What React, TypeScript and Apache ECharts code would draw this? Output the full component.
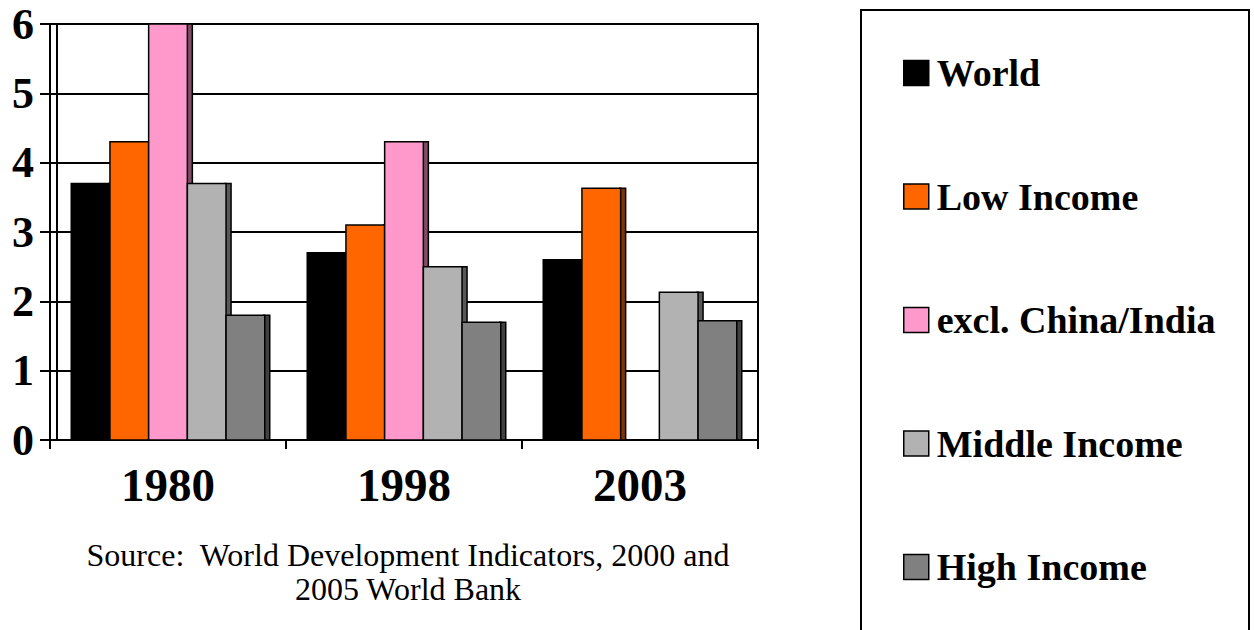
import React, { useEffect, useRef } from "react";
import * as echarts from "echarts";

const categories = ["1980", "1998", "2003"];
const seriesNames = ["World", "Low Income", "excl. China/India", "Middle Income", "High Income"];
const world = [3.7, 2.7, 2.6];
const lowIncome = [4.3, 3.1, 3.63];
const exclChinaIndia = [6.0, 4.3, null];
const middleIncome = [3.7, 2.5, 2.13];
const highIncome = [1.8, 1.7, 1.72];
const yTicks = [0, 1, 2, 3, 4, 5, 6];

const seriesValues = [world, lowIncome, exclChinaIndia, middleIncome, highIncome];
const faceColors = ["#000000", "#FF6600", "#FF99CC", "#B2B2B2", "#808080"];
const sideColors = ["#000000", "#803300", "#804C66", "#595959", "#404040"];

const FONT = "Liberation Serif";

export default function App() {
  const ref = useRef<HTMLDivElement>(null);
  useEffect(() => {
    if (!ref.current) return;
    const chart = echarts.init(ref.current, null, { renderer: "svg" });
    const nBars = seriesNames.length;
    const series = seriesValues.map((vals, si) => ({
      type: "custom",
      name: seriesNames[si],
      data: vals.map((v, ci) => [ci, v == null ? NaN : v]),
      encode: { x: 0, y: 1 },
      itemStyle: { color: faceColors[si], borderColor: "#000", borderWidth: 1.5 },
      renderItem: (params: any, api: any) => {
        const ci = api.value(0);
        const v = api.value(1);
        if (v == null || isNaN(v)) return null;
        const base = api.coord([ci, 0]);
        const top = api.coord([ci, v]);
        const catW = api.size([1, 0])[0];
        const slot = catW * 0.164;
        const start = base[0] - (nBars / 2) * slot;
        const x = start + si * slot;
        const h = base[1] - top[1];
        return {
          type: "group",
          children: [
            {
              type: "rect",
              shape: { x: x + slot - 1, y: top[1], width: 6, height: h },
              style: { fill: sideColors[si], stroke: "#000", lineWidth: 1.5 },
            },
            {
              type: "rect",
              shape: { x: x, y: top[1], width: slot, height: h },
              style: { fill: faceColors[si], stroke: "#000", lineWidth: 1.5 },
            },
          ],
        };
      },
    }));

    chart.setOption({
      animation: false,
      backgroundColor: "#fff",
      textStyle: { fontFamily: FONT },
      grid: {
        left: 50,
        top: 24,
        width: 708,
        height: 416,
        show: true,
        borderColor: "#000",
        borderWidth: 2,
        backgroundColor: "transparent",
        outerBoundsMode: "none",
      },
      xAxis: {
        type: "category",
        data: categories,
        axisLine: { show: true, lineStyle: { color: "#000", width: 2 } },
        axisTick: { show: true, length: 9, lineStyle: { color: "#000", width: 2 } },
        axisLabel: {
          fontFamily: FONT,
          fontSize: 47,
          fontWeight: "bold",
          color: "#000",
          margin: 21,
        },
      },
      yAxis: {
        type: "value",
        min: yTicks[0],
        max: yTicks[yTicks.length - 1],
        interval: 1,
        axisLine: { show: true, lineStyle: { color: "#000", width: 2 } },
        axisTick: { show: true, length: 10, lineStyle: { color: "#000", width: 2 } },
        splitLine: { show: true, lineStyle: { color: "#000", width: 2 } },
        axisLabel: {
          fontFamily: FONT,
          fontSize: 44,
          fontWeight: "bold",
          color: "#000",
          margin: 16,
        },
      },
      legend: {
        orient: "vertical",
        left: 903,
        top: 53,
        padding: 0,
        itemWidth: 25,
        itemHeight: 25,
        itemGap: 83.5,
        icon: "rect",
        itemStyle: { borderColor: "#000", borderWidth: 1.5 },
        textStyle: {
          fontFamily: FONT,
          fontSize: 38,
          fontWeight: "bold",
          color: "#000",
          lineHeight: 40,
          padding: [0, 0, 0, 3],
        },
        data: seriesNames,
        selectedMode: false,
      },
      graphic: [
        {
          type: "line",
          shape: { x1: 57, y1: 24, x2: 57, y2: 440 },
          style: { stroke: "#000", lineWidth: 2 },
          z: 1,
        },
        {
          type: "rect",
          shape: { x: 861, y: 10, width: 388, height: 640 },
          style: { fill: "none", stroke: "#000", lineWidth: 2 },
        },
        {
          type: "text",
          x: 408,
          y: 538,
          style: {
            text: "Source:  World Development Indicators, 2000 and\n2005 World Bank",
            fontFamily: FONT,
            fontSize: 32,
            fill: "#000",
            textAlign: "center",
            lineHeight: 34,
          },
        },
      ],
      series,
    });
    return () => chart.dispose();
  }, []);
  return (
    <div
      ref={ref}
      style={{ position: "fixed", left: 0, top: 0, width: 1254, height: 630 }}
    />
  );
}
